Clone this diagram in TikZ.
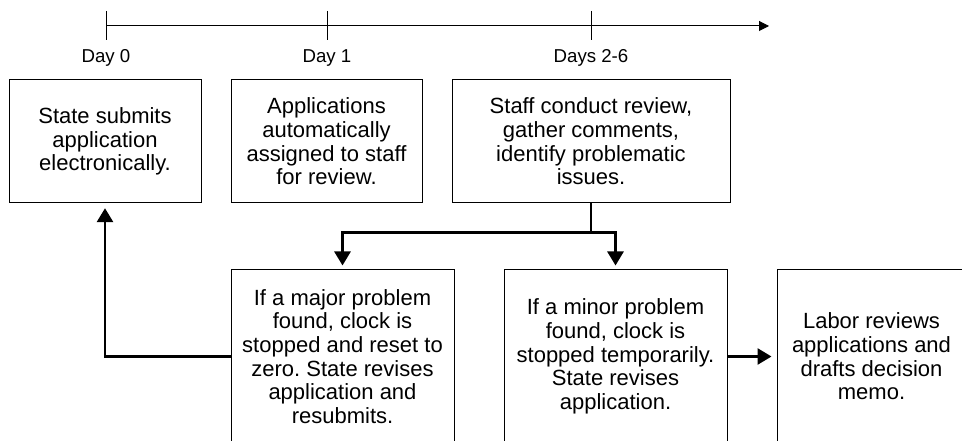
\documentclass[tikz,border=0pt]{standalone}
\usepackage{fontspec}
\setmainfont{Liberation Sans}
\usetikzlibrary{arrows.meta}
\frenchspacing

\begin{document}
\begin{tikzpicture}[x=0.75pt,y=0.75pt,yscale=-1,
  stepbox/.style={draw,line width=0.75pt,inner sep=0pt,align=center,font=\fontsize{16.5}{17.7}\selectfont},
  flow/.style={line width=2pt,-{Triangle[width=12pt,length=10.5pt]}},
  daylabel/.style={inner sep=0pt,font=\fontsize{14}{16}\selectfont}]
\useasboundingbox (0,0) rectangle (962,441);
\clip (0,0) rectangle (962,441);

%Timeline
\coordinate (tstart) at (106,26);
\coordinate (tend) at (769,26);
\draw [line width=0.75pt,-{Triangle[width=7.5pt,length=7.5pt]}] (tstart) -- (tend);
\foreach \tx/\tname/\tlabel in {106/d0/Day 0,327/d1/Day 1,591/d2/Days 2-6}{
  \draw [line width=0.75pt] (\tx,11) -- (\tx,40);
  \node [daylabel] (\tname) at (\tx,58) {\tlabel};
}

%Top row
\node [stepbox,minimum width=144pt,minimum height=92.25pt] (submit) at (105,141.5)
  {State submits\\application\\electronically.};
\node [stepbox,minimum width=143.25pt,minimum height=92.25pt] (assign) at (326.5,141.5)
  {Applications\\automatically\\assigned to staff\\for review.};
\node [stepbox,minimum width=208.5pt,minimum height=92.25pt] (review) at (591,141.5)
  {Staff conduct review,\\gather comments,\\identify problematic\\issues.};

%Bottom row
\node [stepbox,minimum width=167.25pt,minimum height=129.75pt] (major) at (342.5,356.5)
  {If a major problem\\found, clock is\\stopped and reset to\\zero. State revises\\application and\\resubmits.};
\node [stepbox,minimum width=167.25pt,minimum height=129.75pt] (minor) at (615.5,356.5)
  {If a minor problem\\found, clock is\\stopped temporarily.\\State revises\\application.};
\node [stepbox,minimum width=141.75pt,minimum height=129.75pt] (labor) at (871.5,356.5)
  {Labor reviews\\applications and\\drafts decision\\memo.};

%Connectors
\draw [line width=2pt] (review.south) -- ++(0,29) coordinate (split);
\draw [flow,shorten >=3pt] (split) -| (major.north);
\draw [flow,shorten >=3pt] (split) -| (minor.north);
\draw [flow,shorten >=3.5pt] (major.west) -| (submit.south);
\draw [flow,shorten >=3.75pt] (minor.east) -- (labor.west);
\end{tikzpicture}
\end{document}
